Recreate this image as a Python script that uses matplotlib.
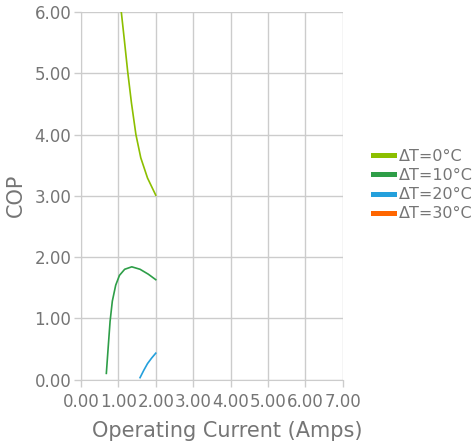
import matplotlib
matplotlib.use("Agg")
import matplotlib.pyplot as plt

plt.rcParams["font.family"] = ["DejaVu Sans"]

# COP vs operating current
dt0_current = [1.08, 1.16, 1.25, 1.35, 1.47, 1.60, 1.78, 2.00]
dt0_cop = [6.00, 5.55, 5.03, 4.52, 4.00, 3.62, 3.29, 3.01]

dt10_current = [0.68, 0.73, 0.78, 0.84, 0.93, 1.03, 1.17, 1.36, 1.58, 1.80, 2.00]
dt10_cop = [0.10, 0.53, 0.95, 1.28, 1.54, 1.70, 1.80, 1.84, 1.80, 1.72, 1.63]

dt20_current = [1.58, 1.68, 1.78, 1.89, 2.00]
dt20_cop = [0.03, 0.15, 0.26, 0.35, 0.43]

dt30_current = []
dt30_cop = []

series_labels = ["ΔT=0°C", "ΔT=10°C", "ΔT=20°C", "ΔT=30°C"]
series_colors = ["#8cbf00", "#2e9e48", "#24a0dc", "#ff6600"]

x_ticks = [0, 1, 2, 3, 4, 5, 6, 7]
y_ticks = [0, 1, 2, 3, 4, 5, 6]

text_grey = "#757575"
grid_grey = "#cccccc"

fig = plt.figure(figsize=(4.73, 4.47), dpi=100)
ax = fig.add_axes([0.171, 0.151, 0.554, 0.822])

data = [(dt0_current, dt0_cop), (dt10_current, dt10_cop),
        (dt20_current, dt20_cop), (dt30_current, dt30_cop)]
for (xs, ys), label, color in zip(data, series_labels, series_colors):
    ax.plot(xs, ys, color=color, lw=1.2, label=label)

ax.set_xlim(0, 7)
ax.set_ylim(0, 6)
ax.set_xticks(x_ticks)
ax.set_yticks(y_ticks)
ax.set_xticklabels([f"{v:.2f}" for v in x_ticks])
ax.set_yticklabels([f"{v:.2f}" for v in y_ticks])

ax.grid(True, color=grid_grey, lw=1)
ax.set_axisbelow(True)
for side in ["top", "right"]:
    ax.spines[side].set_visible(False)
for side in ["left", "bottom"]:
    ax.spines[side].set_color(grid_grey)
ax.tick_params(axis="both", colors=grid_grey, labelcolor=text_grey,
               labelsize=12, length=5, width=1)
ax.tick_params(axis="x", pad=5)
ax.tick_params(axis="y", pad=2)

ax.set_xlabel("Operating Current (Amps)", fontsize=15, color=text_grey)
ax.xaxis.set_label_coords(0.56, -0.113)
ax.set_ylabel("COP", fontsize=15, color=text_grey, labelpad=6)

leg = ax.legend(loc="upper left", bbox_to_anchor=(1.09, 0.645), frameon=False,
                fontsize=11.5, labelcolor=text_grey, handlelength=1.35,
                handletextpad=0.3, labelspacing=0.26, borderaxespad=0)
for h in leg.legend_handles:
    h.set_linewidth(3.6)

fig.savefig("out.png", dpi=100)
